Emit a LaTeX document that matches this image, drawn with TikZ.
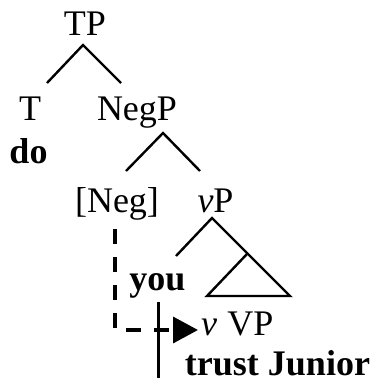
\documentclass[tikz,border=0pt]{standalone}
\usepackage{fontspec}
\setmainfont{Liberation Serif}
\usetikzlibrary{arrows.meta}
\begin{document}
\begin{tikzpicture}[x=1pt,y=-1pt,
  lbl/.style={anchor=base,inner sep=0pt,font=\fontsize{36}{40}\selectfont},
  word/.style={lbl,font=\fontsize{36}{40}\selectfont\bfseries},
  branch/.style={line width=2.4pt,line cap=butt},
  trace/.style={line width=3.6pt,dash pattern=on 14.5pt off 13.5pt,
    -{Triangle[length=25pt,width=26pt]}},
  bar/.style={line width=3.6pt}]
\useasboundingbox (0,0) rectangle (379,381);

% labels
\node[lbl] (tp) at (85,35) {TP};
\node[lbl] (t) at (30,120) {T};
\node[lbl] (negp) at (137,120) {NegP};
\node[word] (do) at (28.5,163) {do};
\node[lbl] (neg) at (117,212) {[Neg]};
\node[lbl] (vp) at (215.5,212) {\textit{v}P};
\node[word] (you) at (157.5,290) {you};
\node[lbl] (vhead) at (209,335) {\textit{v}};
\node[lbl] (vpc) at (250.5,335) {VP};
\node[word] (trust) at (277.5,375) {trust Junior};

% branch points
\coordinate (tpa) at (83,45);
\coordinate (tpl) at (47,83);
\coordinate (tpr) at (121,83);
\coordinate (nga) at (163,133);
\coordinate (ngl) at (126,171);
\coordinate (ngr) at (200,171);
\coordinate (vpa) at (212,218);
\coordinate (vpl) at (176,256);
\coordinate (vpr) at (290,296);
\coordinate (tri) at (247,254);
\coordinate (tribase) at (207,296);

% tree
\draw[branch] (tpl) -- (tpa) -- (tpr);
\draw[branch] (ngl) -- (nga) -- (ngr);
\draw[branch] (vpl) -- (vpa) -- (vpr) -- (tribase) -- (tri);

% movement path and head line
\coordinate (trstart) at (115,229);
\coordinate (trend) at (198,330);
\draw[trace] (trstart) |- (trend);
\coordinate (bartop) at (158.5,302);
\coordinate (barbot) at (158.5,378);
\draw[bar] (bartop) -- (barbot);
\end{tikzpicture}
\end{document}
